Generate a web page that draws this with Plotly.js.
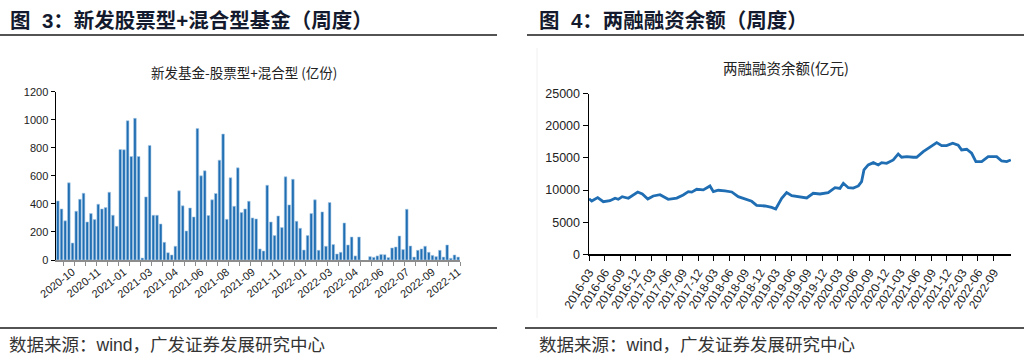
<!DOCTYPE html>
<html><head><meta charset="utf-8">
<script src="https://cdn.plot.ly/plotly-3.0.1.min.js"></script>
<style>html,body{margin:0;padding:0;background:#fff;} #chart{width:1024px;height:361px;}</style>
</head><body><div id="chart"></div>
<script>
// ---- Left chart: new equity + hybrid funds, weekly (亿份)
const barTickLabels = ['2020-10','2020-11','2021-01','2021-03','2021-04','2021-06','2021-08','2021-09',
  '2021-11','2022-01','2022-03','2022-04','2022-06','2022-07','2022-09','2022-11'];
const barValues = [421,364,279,550,121,348,433,476,271,331,
  288,398,364,374,483,319,240,788,786,993,
  738,1010,738,14,450,817,319,319,257,126,
  52,36,98,493,386,207,371,307,938,600,
  636,317,429,474,712,898,290,586,383,657,
  338,364,419,300,293,79,64,533,271,174,
  314,231,593,393,576,276,226,71,174,331,
  429,69,343,98,410,110,43,55,264,107,
  164,29,164,null,null,24,19,29,40,38,
  17,86,93,171,74,362,100,21,69,79,
  98,55,33,24,69,21,107,12,36,21];

// ---- Right chart: margin financing balance (亿元)
const marginDates = ['2016-03-01','2016-03-17','2016-04-21','2016-05-24','2016-07-02','2016-08-01','2016-08-20','2016-09-12',
  '2016-10-18','2016-12-12','2017-01-08','2017-02-09','2017-03-13','2017-04-22','2017-06-09','2017-07-29',
  '2017-09-05','2017-10-05','2017-10-25','2017-11-23','2018-01-01','2018-01-21','2018-02-09','2018-03-01',
  '2018-03-30','2018-05-08','2018-06-17','2018-07-25','2018-09-03','2018-10-12','2018-11-10','2018-12-29',
  '2019-02-06','2019-03-02','2019-04-06','2019-05-05','2019-06-04','2019-07-22','2019-08-31','2019-10-08',
  '2019-11-17','2020-01-04','2020-02-13','2020-03-13','2020-04-02','2020-05-01','2020-05-30','2020-06-29',
  '2020-07-18','2020-08-01','2020-08-26','2020-09-25','2020-10-24','2020-11-13','2020-12-12','2021-01-20',
  '2021-02-18','2021-03-10','2021-04-09','2021-05-17','2021-06-06','2021-07-15','2021-08-23','2021-10-02',
  '2021-10-31','2021-11-29','2022-01-04','2022-02-05','2022-02-25','2022-03-27','2022-04-25','2022-05-20',
  '2022-06-23','2022-07-31','2022-09-19','2022-10-18','2022-11-17','2022-12-11'];
const marginValues = [8650,8300,8820,8190,8350,8720,8560,8970,
  8720,9700,9390,8610,9080,9280,8560,8760,
  9240,9760,9680,10120,10020,10280,10640,9750,
  9970,9860,9700,8970,8660,8250,7630,7520,
  7300,7060,8720,9600,9130,8970,8770,9500,
  9390,9600,10370,10260,11050,10370,10300,10640,
  11310,13130,13910,14270,13910,14270,14170,14690,
  15620,15110,15210,15110,15110,15980,16670,17390,
  16920,16920,17290,16990,16250,16350,15730,14430,
  14430,15210,15210,14530,14430,14690];
const marginTickLabels = ['2016-03','2016-06','2016-09','2016-12','2017-03','2017-06','2017-09','2017-12',
  '2018-03','2018-06','2018-09','2018-12','2019-03','2019-06','2019-09','2019-12',
  '2020-03','2020-06','2020-09','2020-12','2021-03','2021-06','2021-09','2021-12',
  '2022-03','2022-06','2022-09'];

const W = 1024, H = 361;
const px = x => x / W, py = y => 1 - y / H;
const NUM = 'Liberation Sans, Arial, sans-serif';
const CJK = 'Liberation Sans, Noto Sans CJK SC, sans-serif';
const BLUE = '#1f6db2';

const barX = barValues.map((v, i) => i + 1);
const barTickVals = barTickLabels.map((t, i) => 5 + 7 * i);

const traces = [
  { type: 'bar', x: barX, y: barValues, xaxis: 'x', yaxis: 'y',
    marker: { color: BLUE, line: { color: '#a9cbe8', width: 0.6 } }, hoverinfo: 'none' },
  { type: 'scatter', mode: 'lines', x: marginDates, y: marginValues, xaxis: 'x2', yaxis: 'y2',
    line: { color: BLUE, width: 2.8 }, hoverinfo: 'none' }
];

const ann = (x, y, text, size, opts) => Object.assign({
  xref: 'paper', yref: 'paper', x: px(x), y: py(y), text, showarrow: false,
  xanchor: 'left', yanchor: 'middle', font: { family: CJK, size, color: '#222' }
}, opts || {});

const hline = (x0, x1, y, color, w) => ({ type: 'line', xref: 'paper', yref: 'paper',
  x0: px(x0), x1: px(x1), y0: py(y), y1: py(y), line: { color, width: w } });

const layout = {
  width: W, height: H, margin: { l: 0, r: 0, t: 0, b: 0 },
  paper_bgcolor: '#fff', plot_bgcolor: 'rgba(0,0,0,0)', showlegend: false, bargap: 0.28,
  xaxis: {
    domain: [px(56), px(460)], anchor: 'y', range: [0.5, 110.5], fixedrange: true,
    tickmode: 'array', tickvals: barTickVals, ticktext: barTickLabels, tickangle: -38,
    ticks: '', showline: true, linecolor: '#8c8c8c', linewidth: 1.5, showgrid: false, zeroline: false,
    tickfont: { family: NUM, size: 11, color: '#222' },
    minor: { ticks: 'outside', ticklen: 4, tickcolor: '#8c8c8c', tickwidth: 1, tick0: 2.5, dtick: 3, showgrid: false }
  },
  yaxis: {
    domain: [py(260), py(91.7)], anchor: 'x', range: [0, 1200], dtick: 200, fixedrange: true,
    ticks: 'outside', ticklen: 4, tickcolor: '#000', showline: true, linecolor: '#000', linewidth: 1.5,
    showgrid: false, zeroline: false, tickfont: { family: NUM, size: 11, color: '#222' }
  },
  xaxis2: {
    type: 'date', domain: [px(589), px(1011)], anchor: 'y2', range: ['2016-03-01', '2022-12-12'], fixedrange: true,
    tickmode: 'array', tickvals: marginTickLabels.map(t => t + '-01'), ticktext: marginTickLabels, tickangle: -58,
    ticks: 'outside', ticklen: 5, tickcolor: '#000', showline: true, linecolor: '#000', linewidth: 1.5,
    showgrid: false, zeroline: false, tickfont: { family: NUM, size: 12, color: '#222' }
  },
  yaxis2: {
    domain: [py(254.3), py(93.7)], anchor: 'x2', range: [0, 25000], dtick: 5000, tickformat: 'd', fixedrange: true,
    ticks: 'outside', ticklen: 5, tickcolor: '#000', showline: true, linecolor: '#000', linewidth: 1.5,
    showgrid: false, zeroline: false, tickfont: { family: NUM, size: 12.5, color: '#222' }
  },
  annotations: [
    ann(8, 20, '<b>图\u00a0\u00a03：新发股票型+混合型基金（周度）</b>', 20, { font: { family: CJK, size: 20.5, color: '#141a2e' } }),
    ann(537, 20, '<b>图\u00a0\u00a04：两融融资余额（周度）</b>', 20, { font: { family: CJK, size: 20.5, color: '#141a2e' } }),
    ann(244, 72.5, '新发基金-股票型+混合型 (亿份)', 13.5, { xanchor: 'center', font: { family: 'Noto Sans CJK SC, sans-serif', size: 13.5, color: '#222' } }),
    ann(786, 68, '两融融资余额(亿元)', 14.5, { xanchor: 'center', font: { family: 'Noto Sans CJK SC, sans-serif', size: 14.5, color: '#222' } }),
    ann(7, 345, '数据来源：wind，广发证券发展研究中心', 17.5, { font: { family: CJK, size: 17.5, color: '#333' } }),
    ann(537, 345, '数据来源：wind，广发证券发展研究中心', 17.5, { font: { family: CJK, size: 17.5, color: '#333' } })
  ],
  shapes: [
    hline(0, 497, 35, '#1a1a1a', 1.5),
    hline(527, 1024, 35, '#1a1a1a', 1.5),
    hline(0, 497, 328, '#1a1a1a', 1.5),
    hline(525, 1024, 328, '#1a1a1a', 1.5),
    { type: 'line', xref: 'paper', yref: 'paper', x0: px(537), x1: px(537), y0: py(48), y1: py(318),
      line: { color: '#f0f0f0', width: 1 } }
  ]
};

Plotly.newPlot('chart', traces, layout, { staticPlot: true, displayModeBar: false });
</script>
</body></html>
